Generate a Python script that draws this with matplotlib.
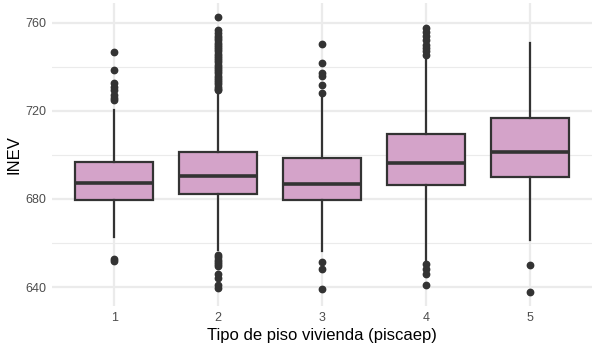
import matplotlib
matplotlib.use("Agg")
import matplotlib.pyplot as plt

plt.rcParams['font.family'] = ['Liberation Sans', 'DejaVu Sans']

categories = ["1", "2", "3", "4", "5"]
q1 = [679.5, 682.3, 679.5, 686.4, 690.0]
median = [687.3, 690.5, 686.8, 696.4, 701.4]
q3 = [696.8, 701.4, 698.6, 709.5, 716.8]
whisker_low = [662.7, 656.8, 656.4, 652.0, 661.4]
whisker_high = [720.5, 729.1, 726.4, 743.2, 750.9]
outliers = [
    [746.8, 738.6, 732.7, 731.0, 729.5, 727.3, 726.0, 725.0, 652.7, 652.0],
    [762.7, 756.8, 755.5, 754.0, 753.0, 752.0, 751.0, 750.0, 749.0, 748.0,
     747.0, 746.0, 745.0, 744.0, 743.0, 742.0, 741.0, 740.0, 739.0, 738.0,
     737.0, 736.0, 735.0, 734.0, 733.0, 732.0, 731.0, 730.0, 729.5,
     654.5, 653.5, 652.5, 651.5, 650.5, 649.5, 646.0, 644.0, 641.0, 639.5],
    [750.5, 741.8, 737.3, 736.0, 731.8, 728.2, 651.4, 648.2, 639.1],
    [757.7, 756.0, 754.0, 752.0, 750.0, 748.5, 747.0, 745.5,
     650.5, 648.0, 646.0, 641.0],
    [650.0, 637.7],
]
y_ticks = [640, 680, 720, 760]
x_label = "Tipo de piso vivienda (piscaep)"
y_label = "INEV"

fill = "#D4A3C9"
edge = "#333333"

fig = plt.figure(figsize=(6.05, 3.54), dpi=100)
ax = fig.add_axes([52/605, 48/354, 540/605, 303/354])

stats = []
for i, c in enumerate(categories):
    stats.append(dict(label=c, q1=q1[i], med=median[i], q3=q3[i],
                      whislo=whisker_low[i], whishi=whisker_high[i],
                      fliers=outliers[i]))

positions = list(range(1, len(categories) + 1))
ax.bxp(stats, positions=positions, widths=0.75, patch_artist=True,
       showcaps=False,
       boxprops=dict(facecolor=fill, edgecolor=edge, linewidth=1.6),
       medianprops=dict(color=edge, linewidth=2.6, solid_capstyle='butt'),
       whiskerprops=dict(color=edge, linewidth=1.6),
       flierprops=dict(marker='o', markerfacecolor=edge, markeredgecolor=edge,
                       markersize=4.6, linestyle='none'),
       zorder=3)

ax.set_xlim(0.4, len(categories) + 0.6)
ax.set_ylim(631.4, 769.0)
ax.set_yticks(y_ticks)
ax.set_yticks([660, 700, 740], minor=True)
ax.set_xticks(positions)
ax.set_xticklabels(categories)

for s in ax.spines.values():
    s.set_visible(False)
ax.grid(which='major', color='#EBEBEB', linewidth=1.6, zorder=0)
ax.grid(which='minor', axis='y', color='#EBEBEB', linewidth=0.8, zorder=0)
ax.set_axisbelow(True)
ax.tick_params(which='both', length=0, labelsize=9, colors='#4D4D4D', pad=4)

ax.set_xlabel(x_label, fontsize=12, color='black', labelpad=3)
ax.set_ylabel(y_label, fontsize=12, color='black', labelpad=3)

fig.savefig("out.png", dpi=100)
